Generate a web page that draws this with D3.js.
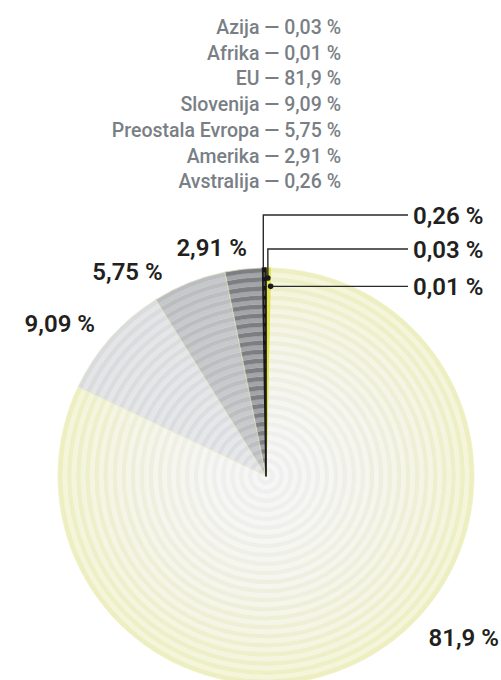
<!DOCTYPE html>
<html><head><meta charset="utf-8">
<script src="https://cdn.jsdelivr.net/npm/d3@7"></script>
<style>body{margin:0;background:#fff}svg{display:block}</style>
</head><body><svg id="c" width="501" height="680"></svg>
<script>
// ---- data ----
const categories = ["Azija", "Afrika", "EU", "Slovenija", "Preostala Evropa", "Amerika", "Avstralija"];
const values = [0.03, 0.01, 81.9, 9.09, 5.75, 2.91, 0.26];

// ---- styles / layout ----
const darkInner  = ["#dde24a", "#dde24a", "#efefef", "#dcdde0", "#bdbec1", "#7d7e82", "#151515"];
const lightInner = ["#e6e970", "#e6e970", "#f6f6f6", "#e6e7e9", "#c9cacc", "#a4a5a8", "#4a4a4a"];
const darkOuter  = ["#dde24a", "#dde24a", "#edefbf", "#dadbdd", "#bcbdc0", "#7d7e82", "#151515"];
const lightOuter = ["#e6e970", "#e6e970", "#f4f5da", "#e4e5e6", "#c7c8ca", "#a4a5a8", "#4a4a4a"];

const W = 501, H = 680;
const cx = 266, cy = 476, R = 208;
const rings = 23;
const displayMin = 0.17;

const fmt = v => String(v).replace(".", ",") + " %";

const svg = d3.select("#c");
const g = svg.append("g").attr("transform", `translate(${cx},${cy})`);

const pie = d3.pie().sort(null).value(d => Math.max(d.value, displayMin));
const data = categories.map((c, i) => ({ name: c, value: values[i], i }));
const arcs = pie(data);

const rScale = d3.scaleLinear().domain([0, rings]).range([0, R]);
const arcGen = d3.arc();

const order = [2, 3, 4, 5, 0, 1, 6];
order.forEach(idx => {
  const a = arcs[idx];
  const sg = g.append("g");
  for (let k = 0; k < rings; k++) {
    const t = Math.pow((k + 0.5) / rings, 1.8);
    const r0 = rScale(k), r1 = rScale(k + 1), rm = (r0 + r1) / 2;
    const dark = d3.interpolateRgb(darkInner[idx], darkOuter[idx])(t);
    const light = d3.interpolateRgb(lightInner[idx], lightOuter[idx])(t);
    sg.append("path")
      .attr("d", arcGen({ innerRadius: r0, outerRadius: rm, startAngle: a.startAngle, endAngle: a.endAngle }))
      .attr("fill", light).attr("stroke", light).attr("stroke-width", 0.3);
    sg.append("path")
      .attr("d", arcGen({ innerRadius: rm, outerRadius: r1, startAngle: a.startAngle, endAngle: a.endAngle }))
      .attr("fill", dark).attr("stroke", dark).attr("stroke-width", 0.3);
  }
  sg.append("path")
    .attr("d", arcGen({ innerRadius: 0, outerRadius: R, startAngle: a.startAngle, endAngle: a.endAngle }))
    .attr("fill", "none")
    .attr("stroke", idx === 6 ? "#1a1a1a" : (idx < 2 ? "#e0e44c" : "#f0f2cc"))
    .attr("stroke-width", idx === 6 ? 1.6 : (idx < 2 ? 1.2 : 0.6))
    .attr("stroke-linejoin", "round");
});

// ---- outer labels ----
const labelFont = "Roboto, 'DejaVu Sans', sans-serif";
const labelR = 229;
const labelAngle = { 2: 134.8, 3: 311.7, 4: 333.2, 5: 355.2 }; // degrees, clockwise from top
[2, 3, 4, 5].forEach(idx => {
  const ang = labelAngle[idx] * Math.PI / 180;
  const x = labelR * Math.sin(ang), y = -labelR * Math.cos(ang);
  g.append("text")
    .attr("x", x).attr("y", y)
    .attr("dy", "0.36em")
    .attr("text-anchor", idx === 2 ? "start" : "end")
    .attr("font-family", labelFont).attr("font-weight", 600).attr("font-size", 24)
    .attr("fill", "#231f20")
    .text(fmt(values[idx]));
});

// ---- callouts for tiny slices ----
const calloutIdx = [6, 0, 1];
const calloutR = [R, 0.952 * R, 0.912 * R];
const calloutLabelY = [-261, -227, null];
const lineEndX = 408 - cx;
calloutIdx.forEach((idx, j) => {
  const a = arcs[idx];
  const mid = (a.startAngle + a.endAngle) / 2;
  const px = calloutR[j] * Math.sin(mid) + (j === 0 ? -1 : 0.8 * j);
  const py = -calloutR[j] * Math.cos(mid);
  const ly = calloutLabelY[j] === null ? py : calloutLabelY[j];
  const pts = ly === py ? [[px, py], [lineEndX, py]] : [[px, py], [px, ly], [lineEndX, ly]];
  g.append("path")
    .attr("d", d3.line()(pts))
    .attr("fill", "none").attr("stroke", "#2a2a2a").attr("stroke-width", 1.4);
  if (j > 0) {
    g.append("circle").attr("cx", px).attr("cy", py).attr("r", 2.8).attr("fill", "#1a1a1a");
  }
  g.append("text")
    .attr("x", lineEndX + 5).attr("y", ly)
    .attr("dy", "0.36em")
    .attr("font-family", labelFont).attr("font-weight", 600).attr("font-size", 24)
    .attr("fill", "#231f20")
    .text(fmt(values[idx]));
});

// ---- legend ----
const legend = svg.append("g");
categories.forEach((c, i) => {
  legend.append("text")
    .attr("x", 341).attr("y", 34 + i * 25.7)
    .attr("text-anchor", "end")
    .attr("font-family", labelFont).attr("font-weight", 500).attr("font-size", 19.5)
    .attr("fill", "#797f85")
    .text(`${c} — ${fmt(values[i])}`);
});
</script>
</body></html>
